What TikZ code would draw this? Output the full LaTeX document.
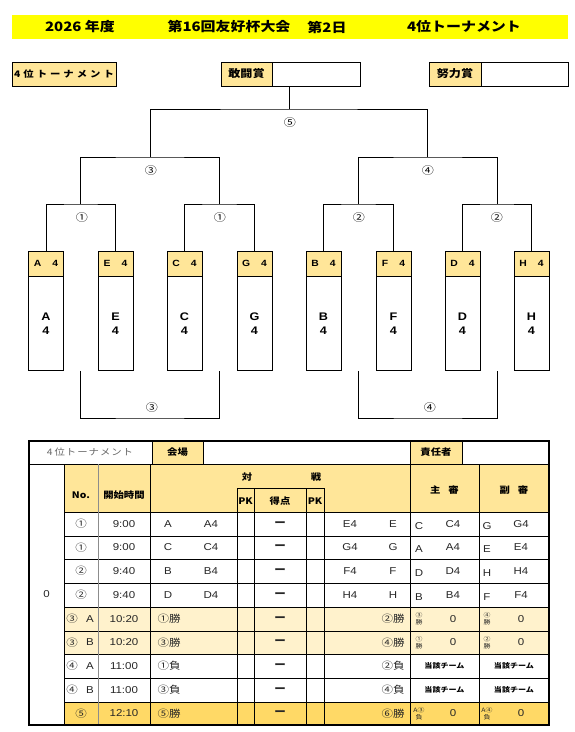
\documentclass[tikz,border=0pt]{standalone}
\usepackage{fontspec}
\setmainfont{Liberation Sans}[FakeStretch=1.15]
\newfontfamily\jp{Noto Sans CJK JP}[FakeStretch=1.15]
\usetikzlibrary{positioning}
\definecolor{band}{HTML}{FFFF00}
\definecolor{gold}{HTML}{FFE699}
\definecolor{cream}{HTML}{FFF2CC}
\definecolor{deepgold}{HTML}{FFD966}
\tikzstyle{title} = [inner sep=0pt, font={\jp\bfseries\fontsize{13}{15}\selectfont}]
\tikzstyle{award} = [rectangle, draw=black, semithick, fill=gold, minimum height=24, inner sep=0pt, font={\jp\bfseries\fontsize{10.5}{12}\selectfont}]
\tikzstyle{blank} = [rectangle, draw=black, semithick, fill=white, minimum height=24, inner sep=0pt]
\tikzstyle{head} = [rectangle, draw=black, semithick, fill=gold, minimum width=35, minimum height=25, inner sep=0pt, font={\bfseries\fontsize{9}{11}\selectfont}]
\tikzstyle{body} = [rectangle, draw=black, semithick, minimum width=35, minimum height=94, inner sep=0pt, align=center, font={\bfseries\fontsize{11}{14}\selectfont}]
\tikzstyle{line} = [semithick]
\tikzstyle{num} = [inner sep=0pt, font={\jp\fontsize{10.5}{12}\selectfont}]
\tikzstyle{grid} = [line width=1pt]
\tikzstyle{frame} = [line width=1.5pt]
\tikzstyle{cell} = [inner sep=0pt, text=black!85, font={\fontsize{10}{11}\selectfont}]
\tikzstyle{hcell} = [inner sep=0pt, font={\jp\bfseries\fontsize{9}{11}\selectfont}]
\tikzstyle{tiny} = [inner sep=0pt, align=center, text=black!85, font={\jp\fontsize{6}{7}\selectfont}]
\tikzstyle{team} = [inner sep=0pt, font={\jp\bfseries\fontsize{7}{8}\selectfont}]

\begin{document}
\begin{tikzpicture}[x=1pt,y=-1pt]
\useasboundingbox (0,0) rectangle (574,732);
% title band
\fill[band] (12,15) rectangle (568,39);
\node (y1) [title] at (80,27) {2026 年度};
\node (y2) [title] at (229,27) {第16回友好杯大会};
\node (y3) [title] at (327,27) {第2日};
\node (y4) [title] at (464,27) {4位トーナメント};

% prize boxes
\node (k0) [award, minimum width=104, font={\jp\bfseries\fontsize{9}{11}\selectfont}] at (64,74) {4\hspace{3pt}位\hspace{3pt}ト\hspace{3pt}ー\hspace{3pt}ナ\hspace{3pt}メ\hspace{3pt}ン\hspace{3pt}ト};
\node (k1) [award, minimum width=51] at (246.5,74) {敢闘賞};
\node (k2) [blank, minimum width=87.5, right=0pt of k1] {};
\node (k3) [award, minimum width=52] at (455,74) {努力賞};
\node (k4) [blank, minimum width=87, right=0pt of k3] {};

% teams
\foreach \n/\x in {A/46,E/115.5,C/184.5,G/254.5,B/323.5,F/393.5,D/462.5,H/531.5}{
  \node (h\n) [head] at (\x,263.5) {\n\hspace{11pt}4};
  \node (b\n) [body, below=0pt of h\n] {\n\\4};
}

% bracket
\coordinate (m1) at (80.75,204);
\coordinate (m2) at (219.5,204);
\coordinate (m3) at (358.5,204);
\coordinate (m4) at (497,204);
\coordinate (s1) at (150,157);
\coordinate (s2) at (427.75,157);
\coordinate (f) at (289,109);
\draw [line] (hA) |- (m1) -| (hE);
\draw [line] (hC) |- (m2) -| (hG);
\draw [line] (hB) |- (m3) -| (hF);
\draw [line] (hD) |- (m4) -| (hH);
\draw [line] (m1) |- (s1) -| (m2);
\draw [line] (m3) |- (s2) -| (m4);
\draw [line] (s1) |- (f) -| (s2);
\draw [line] (f) -- (f |- k2.south);
\node (c1) [num] at (82,218) {①};
\node (c2) [num] at (220,218) {①};
\node (c3) [num] at (359,218) {②};
\node (c4) [num] at (497,218) {②};
\node (c5) [num] at (151,171) {③};
\node (c6) [num] at (428,171) {④};
\node (c7) [num] at (290,123) {⑤};

% lower bracket
\coordinate (d1) at (150,418);
\coordinate (d2) at (428,418);
\draw [line] (m1 |- bA.south) |- (d1) -| (m2 |- bA.south);
\draw [line] (m3 |- bA.south) |- (d2) -| (m4 |- bA.south);
\node (c8) [num] at (152,408) {③};
\node (c9) [num] at (430,408) {④};

% table
\fill[gold] (152,441) rectangle (203,464);
\fill[gold] (410,441) rectangle (462,464);
\fill[gold] (64,464) rectangle (549,512);
\fill[cream] (64,607) rectangle (549,654);
\fill[deepgold] (64,702) rectangle (549,725);
\draw[grid] (29,464) -- (549,464);
\foreach \x in {152,203,410,462} \draw[grid] (\x,441) -- (\x,464);
\foreach \y in {512,536,559,583,607,631,654,678,702} \draw[grid] (64,\y) -- (549,\y);
\draw[grid] (237,488) -- (324,488);
\foreach \x in {64,150,410,479} \draw[grid] (\x,464) -- (\x,725);
\draw[grid, black!45] (98,464) -- (98,725);
\foreach \x in {237,254,306,324} \draw[grid] (\x,488) -- (\x,725);
\draw[frame] (29,441) rectangle (549,725);

\node (w0) [cell, text=black!60, font={\jp\fontsize{9}{11}\selectfont}] at (90,452.5) {4\hspace{2pt}位\hspace{1pt}ト\hspace{1pt}ー\hspace{1pt}ナ\hspace{1pt}メ\hspace{1pt}ン\hspace{1pt}ト};
\node (w1) [hcell] at (177.5,452.5) {会場};
\node (w2) [hcell] at (436,452.5) {責任者};
\node (w3) [hcell] at (81,495) {No.};
\node (w4) [hcell] at (124,495) {開始時間};
\node (w5) [hcell] at (247,477) {対};
\node (w6) [hcell] at (316,477) {戦};
\node (w7) [hcell] at (245.5,501) {PK};
\node (w8) [hcell] at (280,501) {得点};
\node (w9) [hcell] at (315,501) {PK};
\node (w10) [hcell] at (444.5,490) {主\hspace{8pt}審};
\node (w11) [hcell] at (514,490) {副\hspace{8pt}審};
\node (w12) [cell] at (46.5,594.5) {0};

\foreach \ya/\nb/\tm/\pa/\pb/\pc/\pd/\ra/\rb/\rc/\rd [count=\k] in {524/①/9:00/A/A4/E4/E/C/C4/G/G4, 547.5/①/9:00/C/C4/G4/G/A/A4/E/E4, 571/②/9:40/B/B4/F4/F/D/D4/H/H4, 595/②/9:40/D/D4/H4/H/B/B4/F/F4}{
  \node (no\k) [cell, font=\jp] at (81,\ya) {\nb};
  \node (tm\k) [cell] at (124,\ya) {\tm};
  \node (pa\k) [cell] at (168,\ya) {\pa};
  \node (pb\k) [cell] at (211,\ya) {\pb};
  \node (ds\k) [cell, font=\jp\bfseries] at (280,\ya) {ー};
  \node (pc\k) [cell] at (350,\ya) {\pc};
  \node (pd\k) [cell] at (393,\ya) {\pd};
  \node (ra\k) [cell] at (419,\ya+2) {\ra};
  \node (rb\k) [cell] at (453,\ya) {\rb};
  \node (rc\k) [cell] at (487,\ya+2) {\rc};
  \node (rd\k) [cell] at (521,\ya) {\rd};
}

\foreach \ya/\nb/\ab/\tm/\pa/\pb [count=\k from 5] in {619/③/A/10:20/①勝/②勝, 642.5/③/B/10:20/③勝/④勝, 666/④/A/11:00/①負/②負, 690/④/B/11:00/③負/④負}{
  \node (no\k) [cell, font=\jp] at (72,\ya) {\nb};
  \node (nl\k) [cell] at (90,\ya) {\ab};
  \node (tm\k) [cell] at (124,\ya) {\tm};
  \node (pa\k) [cell, font=\jp] at (169,\ya) {\pa};
  \node (ds\k) [cell, font=\jp\bfseries] at (280,\ya) {ー};
  \node (pb\k) [cell, font=\jp] at (393,\ya) {\pb};
}
\node (no9) [cell, font=\jp] at (81,713.5) {⑤};
\node (tm9) [cell] at (124,713.5) {12:10};
\node (pa9) [cell, font=\jp] at (169,713.5) {⑤勝};
\node (ds9) [cell, font=\jp\bfseries] at (280,713.5) {ー};
\node (pb9) [cell, font=\jp] at (393,713.5) {⑥勝};

% referees
\foreach \ya/\ra/\rc/\rx [count=\k] in {619/③/④/勝, 642.5/①/②/勝, 713.5/A③/A④/負}{
  \node (sa\k) [tiny] at (419,\ya) {\ra\\\rx};
  \node (sb\k) [cell] at (453,\ya) {0};
  \node (sc\k) [tiny] at (487,\ya) {\rc\\\rx};
  \node (sd\k) [cell] at (521,\ya) {0};
}
\foreach \ya [count=\k] in {666,690}{
  \node (ta\k) [team] at (444.5,\ya) {当該チーム};
  \node (tb\k) [team] at (514,\ya) {当該チーム};
}
\end{tikzpicture}
\end{document}
